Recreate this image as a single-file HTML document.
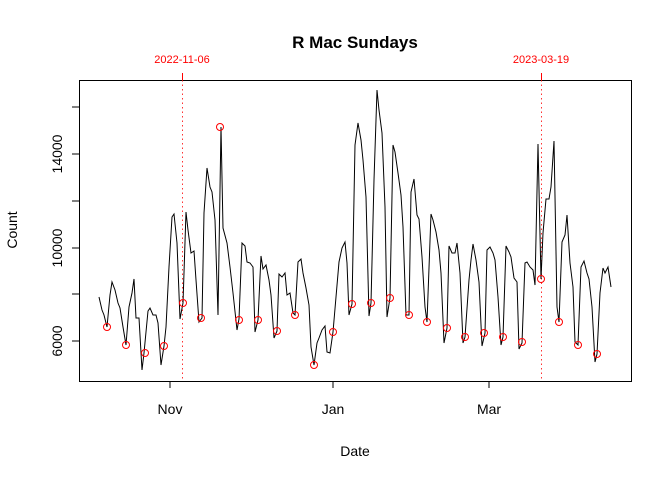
<!DOCTYPE html>
<html><head><style>body{margin:0;background:#fff}svg{display:block}text{font-family:"Liberation Sans",Arial,sans-serif}</style></head>
<body>
<svg width="672" height="480" viewBox="0 0 672 480">
<text x="355" y="48" text-anchor="middle" font-size="17" font-weight="bold">R Mac Sundays</text>
<rect x="79.5" y="80.5" width="552" height="301" fill="none" stroke="#000" stroke-width="1"/>
<g stroke="#000">
<line x1="79" y1="341" x2="72" y2="341"/><line x1="79" y1="294" x2="72" y2="294"/><line x1="79" y1="248" x2="72" y2="248"/><line x1="79" y1="201" x2="72" y2="201"/><line x1="79" y1="154" x2="72" y2="154"/><line x1="79" y1="107" x2="72" y2="107"/>
<line x1="170" y1="381" x2="170" y2="388"/><line x1="333" y1="381" x2="333" y2="388"/><line x1="489" y1="381" x2="489" y2="388"/>
</g>
<g font-size="14" text-anchor="middle">
<text transform="translate(62,341) rotate(-90)">6000</text>
<text transform="translate(62,248) rotate(-90)">10000</text>
<text transform="translate(62,154) rotate(-90)">14000</text>
<text x="170" y="414">Nov</text><text x="333" y="414">Jan</text><text x="489" y="414">Mar</text>
<text x="355" y="456">Date</text>
<text transform="translate(17,230) rotate(-90)">Count</text>
</g>
<g stroke="#ff0000" stroke-width="1" stroke-dasharray="1.5,3" opacity="0.8">
<line x1="182.5" y1="80" x2="182.5" y2="381"/><line x1="541.5" y1="80" x2="541.5" y2="381"/>
</g>
<g stroke="#ff0000"><line x1="182.5" y1="80" x2="182.5" y2="73"/><line x1="541.5" y1="80" x2="541.5" y2="73"/></g>
<g fill="#ff0000" font-size="11" text-anchor="middle"><text x="182" y="63">2022-11-06</text><text x="541" y="63">2023-03-19</text></g>
<polyline fill="none" stroke="#000" stroke-width="1" points="99,297 102,310 104,315 107,327 110,295 112,282 115,290 118,303 120,308 123,327 126,345 129,307 132,293 134,279 136,318 139,318 142,370 144,353 148,311 150,308 153,315 156,315 158,323 161,365 164,346 166,327 169,267 172,217 174,214 177,243 180,319 183,303 186,212 188,230 191,253 194,251 196,280 199,322 202,318 204,213 207,168 210,187 212,192 215,220 218,315 221,127 223,228 227,243 230,267 233,293 237,330 239,319 242,243 245,246 247,262 250,263 253,267 255,332 258,320 261,256 263,269 266,265 269,280 271,295 274,338 277,331 279,274 282,277 285,273 287,295 290,293 293,313 295,315 298,262 301,259 303,273 306,288 309,305 311,347 314,365 317,343 319,338 322,330 325,326 327,352 330,353 333,332 336,297 339,262 342,248 345,242 347,263 349,315 352,304 355,145 358,123 361,140 363,160 366,197 369,316 371,303 374,180 377,90 379,110 382,133 385,207 387,317 390,298 393,145 395,152 398,173 401,195 403,227 406,315 409,315 411,192 414,179 417,215 419,219 422,257 425,307 427,322 431,214 433,220 436,232 439,250 441,273 444,343 447,328 449,246 452,253 455,253 457,243 460,273 463,343 465,337 469,280 471,260 473,244 476,260 479,282 482,346 485,333 487,250 490,247 493,253 495,260 498,297 501,345 503,337 506,246 509,252 511,257 514,278 517,282 519,349 522,343 525,263 527,262 530,267 533,270 535,285 538,144 541,279 543,233 546,199 549,199 551,187 554,141 557,307 559,322 562,242 565,235 567,215 570,263 573,287 575,342 578,345 581,267 584,261 587,273 589,279 592,307 595,362 597,354 600,293 603,268 605,273 608,267 611,287"/>
<g fill="none" stroke="#ff0000" stroke-width="1">
<circle cx="107" cy="327" r="3.5"/><circle cx="126" cy="345" r="3.5"/><circle cx="145" cy="353" r="3.5"/><circle cx="164" cy="346" r="3.5"/><circle cx="183" cy="303" r="3.5"/><circle cx="201" cy="318" r="3.5"/><circle cx="220" cy="127" r="3.5"/><circle cx="239" cy="320" r="3.5"/><circle cx="258" cy="320" r="3.5"/><circle cx="277" cy="331" r="3.5"/><circle cx="295" cy="315" r="3.5"/><circle cx="314" cy="365" r="3.5"/><circle cx="333" cy="332" r="3.5"/><circle cx="352" cy="304" r="3.5"/><circle cx="371" cy="303" r="3.5"/><circle cx="390" cy="298" r="3.5"/><circle cx="409" cy="315" r="3.5"/><circle cx="427" cy="322" r="3.5"/><circle cx="447" cy="328" r="3.5"/><circle cx="465" cy="337" r="3.5"/><circle cx="484" cy="333" r="3.5"/><circle cx="503" cy="337" r="3.5"/><circle cx="522" cy="342" r="3.5"/><circle cx="541" cy="279" r="3.5"/><circle cx="559" cy="322" r="3.5"/><circle cx="578" cy="345" r="3.5"/><circle cx="597" cy="354" r="3.5"/>
</g>
</svg>
</body></html>
